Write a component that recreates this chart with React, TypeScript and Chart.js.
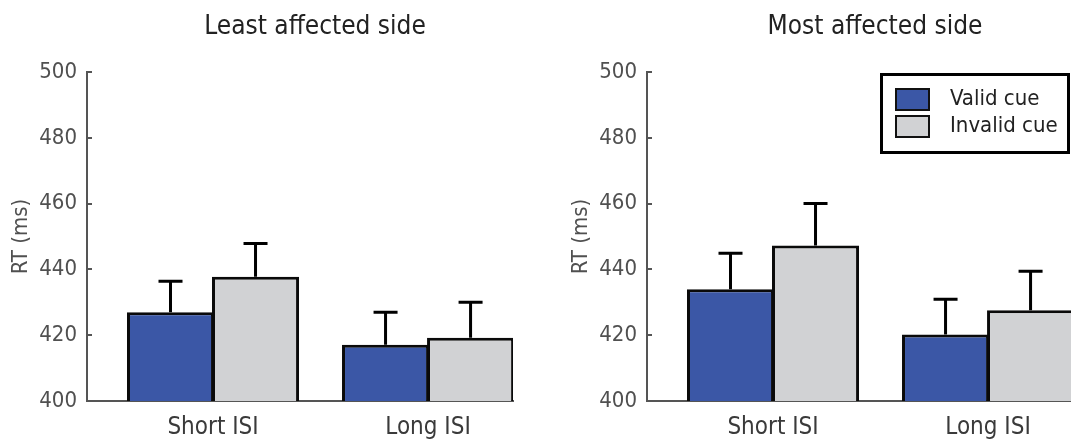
import React, { useEffect, useRef } from 'react';
import { Chart, registerables } from 'chart.js';

Chart.register(...registerables);

// ---- data ----
const categories = ['Short ISI', 'Long ISI'];
const seriesLabels = ['Valid cue', 'Invalid cue'];
const yTickValues = [400, 420, 440, 460, 480, 500];

const leastValid = [427.0, 417.1];
const leastValidErr = [9.4, 9.9];
const leastInvalid = [437.8, 419.2];
const leastInvalidErr = [10.1, 10.8];

const mostValid = [434.0, 420.2];
const mostValidErr = [10.9, 10.7];
const mostInvalid = [447.3, 427.6];
const mostInvalidErr = [12.7, 11.8];

// ---- style ----
const FONT = "'DejaVu Sans Condensed', 'DejaVu Sans', sans-serif";
const VALID_COLOR = '#3b57a6';
const INVALID_COLOR = '#d1d2d4';
const AXIS_COLOR = '#555555';

const errorBarPlugin = {
  id: 'errorBars',
  afterDatasetsDraw(chart: any) {
    const ctx = chart.ctx;
    const y = chart.scales.y;
    chart.data.datasets.forEach((ds: any, i: number) => {
      const meta = chart.getDatasetMeta(i);
      meta.data.forEach((el: any, j: number) => {
        const v = ds.data[j].y;
        const e = ds.errors[j];
        const top = y.getPixelForValue(v + e);
        ctx.save();
        ctx.strokeStyle = '#000';
        ctx.lineWidth = 3;
        ctx.beginPath();
        ctx.moveTo(el.x, el.y);
        ctx.lineTo(el.x, top - 1.5);
        ctx.moveTo(el.x - 12, top);
        ctx.lineTo(el.x + 12, top);
        ctx.stroke();
        ctx.restore();
      });
    });
  },
};

const innerTicksPlugin = {
  id: 'innerTicks',
  beforeDatasetsDraw(chart: any) {
    const { ctx, chartArea } = chart;
    const y = chart.scales.y;
    ctx.save();
    ctx.strokeStyle = AXIS_COLOR;
    ctx.lineWidth = 2;
    y.ticks.forEach((t: any) => {
      const py = Math.round(y.getPixelForValue(t.value));
      ctx.beginPath();
      ctx.moveTo(chartArea.left, py);
      ctx.lineTo(chartArea.left + 5, py);
      ctx.stroke();
    });
    ctx.restore();
  },
};

const boxLegendPlugin = {
  id: 'boxLegend',
  afterDraw(chart: any) {
    const { ctx, chartArea } = chart;
    const right = chartArea.right - 3;
    const left = right - 190;
    const top = chartArea.top + 1;
    const height = 81;
    ctx.save();
    ctx.fillStyle = '#fff';
    ctx.fillRect(left, top, right - left, height);
    ctx.lineWidth = 3;
    ctx.strokeStyle = '#000';
    ctx.strokeRect(left + 1.5, top + 1.5, right - left - 3, height - 3);
    chart.data.datasets.forEach((ds: any, i: number) => {
      const sy = top + 15 + i * 27;
      ctx.fillStyle = ds.backgroundColor;
      ctx.fillRect(left + 15, sy, 35, 23);
      ctx.lineWidth = 2;
      ctx.strokeStyle = '#111';
      ctx.strokeRect(left + 16, sy + 1, 33, 21);
      ctx.fillStyle = '#222';
      ctx.font = `22px ${FONT}`;
      ctx.textBaseline = 'middle';
      ctx.textAlign = 'left';
      ctx.fillText(ds.label, left + 70, sy + 11.5);
    });
    ctx.restore();
  },
};

type PanelProps = {
  title: string;
  valid: number[];
  validErr: number[];
  invalid: number[];
  invalidErr: number[];
  showLegend: boolean;
  left: number;
};

function Panel({ title, valid, validErr, invalid, invalidErr, showLegend, left }: PanelProps) {
  const ref = useRef<HTMLCanvasElement | null>(null);

  useEffect(() => {
    if (!ref.current) return;
    const barOpts = {
      borderColor: '#0a0a0a',
      borderWidth: 3,
      borderSkipped: false,
      categoryPercentage: 170 / 215,
      barPercentage: 1.024,
    };
    const chart = new Chart(ref.current, {
      type: 'bar',
      data: {
        datasets: [
          {
            label: seriesLabels[0],
            data: valid.map((v, i) => ({ x: i + 1, y: v })),
            errors: validErr,
            backgroundColor: VALID_COLOR,
            ...barOpts,
          } as any,
          {
            label: seriesLabels[1],
            data: invalid.map((v, i) => ({ x: i + 1, y: v })),
            errors: invalidErr,
            backgroundColor: INVALID_COLOR,
            ...barOpts,
          } as any,
        ],
      },
      options: {
        animation: false,
        responsive: false,
        events: [],
        layout: { padding: 0 },
        plugins: {
          legend: { display: false },
          tooltip: { enabled: false },
          title: {
            display: true,
            text: title,
            color: '#222',
            font: { family: FONT, size: 26, weight: 'normal' as any },
            padding: { top: 12, bottom: 28.8 },
          },
        },
        scales: {
          x: {
            type: 'linear',
            offset: false,
            min: 0.414,
            max: 2.395,
            afterBuildTicks: (s: any) => {
              s.ticks = categories.map((_, i) => ({ value: i + 1 }));
            },
            afterFit: (s: any) => {
              s.height = 38;
            },
            ticks: {
              callback: (v: any) => categories[Number(v) - 1] ?? '',
              color: '#3a3a3a',
              font: { family: FONT, size: 24 },
              padding: 12,
              autoSkip: false,
              maxRotation: 0,
            },
            grid: { display: false, drawTicks: false, offset: false },
            border: { display: true, color: AXIS_COLOR, width: 2 },
          },
          y: {
            min: 400,
            max: 500,
            afterBuildTicks: (s: any) => {
              s.ticks = yTickValues.map((v) => ({ value: v }));
            },
            afterFit: (s: any) => {
              s.width = 87;
            },
            ticks: {
              color: '#505050',
              font: { family: FONT, size: 22 },
              padding: 10,
            },
            grid: { display: false, drawTicks: false },
            border: { display: true, color: AXIS_COLOR, width: 2 },
            title: {
              display: true,
              text: 'RT (ms)',
              color: '#505050',
              font: { family: FONT, size: 22 },
              padding: { top: 8, bottom: 0 },
            },
          },
          spacer: {
            type: 'linear',
            position: 'right',
            display: true,
            min: 0,
            max: 1,
            afterFit: (s: any) => {
              s.width = 117;
            },
            ticks: { display: false },
            grid: { display: false, drawTicks: false },
            border: { display: false },
          },
        },
      } as any,
      plugins: showLegend
        ? [innerTicksPlugin, errorBarPlugin, boxLegendPlugin]
        : [innerTicksPlugin, errorBarPlugin],
    });
    return () => chart.destroy();
  }, []);

  return (
    <canvas
      ref={ref}
      width={630}
      height={439}
      style={{ position: 'absolute', left, top: 0, width: 630, height: 439, display: 'block' }}
    />
  );
}

export default function App() {
  return (
    <div
      style={{
        position: 'fixed',
        left: 0,
        top: 0,
        width: 1071,
        height: 439,
        overflow: 'hidden',
        background: '#fff',
      }}
    >
      <Panel
        title="Least affected side"
        valid={leastValid}
        validErr={leastValidErr}
        invalid={leastInvalid}
        invalidErr={leastInvalidErr}
        showLegend={false}
        left={0}
      />
      <Panel
        title="Most affected side"
        valid={mostValid}
        validErr={mostValidErr}
        invalid={mostInvalid}
        invalidErr={mostInvalidErr}
        showLegend={true}
        left={560}
      />
    </div>
  );
}
